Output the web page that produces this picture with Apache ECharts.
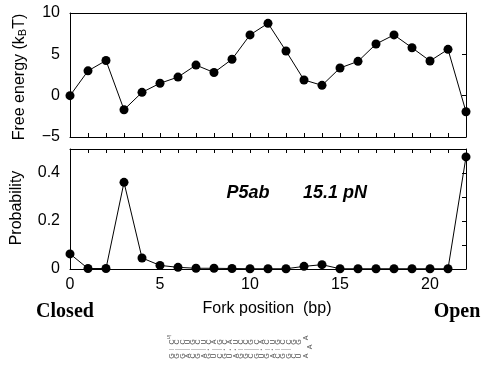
<!DOCTYPE html>
<html><head><meta charset="utf-8">
<script src="https://cdn.jsdelivr.net/npm/echarts@6/dist/echarts.min.js"></script>
<style>html,body{margin:0;padding:0;background:#fff}#c{width:482px;height:365px}</style>
</head><body><div id="c"></div>
<script>
const positions = [0,1,2,3,4,5,6,7,8,9,10,11,12,13,14,15,16,17,18,19,20,21,22];
const freeEnergy = [0,3.0,4.25,-1.7,0.4,1.5,2.25,3.7,2.8,4.4,7.35,8.75,5.4,1.9,1.25,3.35,4.15,6.25,7.35,5.8,4.2,5.6,-1.95];
const probability = [0.063,0.002,0.002,0.361,0.046,0.015,0.007,0.003,0.003,0.002,0.001,0.001,0.001,0.011,0.018,0.001,0.001,0.001,0.001,0.001,0.001,0.001,0.467];
const energyTicks = [-5,0,5,10];
const probTicks = [0,0.2,0.4];
const forkTicks = [0,5,10,15,20];
const topStrand = "CCCUGCUCAGCAUCCGCACUGCCGG";
const pairMarks = "|||||||\u2022||\u2022\u2022\u2022||||\u2022|\u2022|||";
const botStrand = "GGGACGAGUCGUAGGCGUGACGGCU";

const FONT = '"Liberation Sans", Arial, Helvetica, sans-serif';
const pairE = positions.map((p,i)=>[p,freeEnergy[i]]);
const pairP = positions.map((p,i)=>[p,probability[i]]);
const black = '#000';
const axisLine = {show:true, onZero:false, lineStyle:{color:black,width:1}};

const hairpin = [];
const x0 = 172, dx = 5.3;
function addRow(str, y, color, size){
  for (let i=0;i<str.length;i++){
    hairpin.push({type:'text', x:x0+i*dx, y:y, rotation:Math.PI/2,
      style:{text:str[i], font:size+'px '+FONT, fill:color, align:'center', verticalAlign:'middle'}, silent:true});
  }
}
addRow(topStrand, 342, '#555', 7);
addRow(pairMarks, 349.5, '#777', 5);
addRow(botStrand, 356, '#555', 7);
hairpin.push({type:'text', x:167, y:334, style:{text:"5'", font:'6px '+FONT, fill:'#666'}});
hairpin.push({type:'text', x:x0+topStrand.length*dx+2, y:338, rotation:Math.PI/2, style:{text:'A', font:'7px '+FONT, fill:'#555', align:'center', verticalAlign:'middle'}});
hairpin.push({type:'text', x:x0+topStrand.length*dx+6, y:347, rotation:Math.PI/2, style:{text:'A', font:'7px '+FONT, fill:'#555', align:'center', verticalAlign:'middle'}});
hairpin.push({type:'text', x:x0+topStrand.length*dx+2, y:356, rotation:Math.PI/2, style:{text:'A', font:'7px '+FONT, fill:'#555', align:'center', verticalAlign:'middle'}});

const chart = echarts.init(document.getElementById('c'), null, {renderer:'canvas'});
chart.setOption({
  animation:false,
  backgroundColor:'#fff',
  grid:[
    {left:70, top:13, width:396, height:124},
    {left:70, top:149, width:396, height:120}
  ],
  xAxis:[
    {gridIndex:0, type:'value', position:'bottom', min:0, max:22, interval:1,
     axisLine:axisLine, axisTick:{show:true, inside:true, length:4, lineStyle:{color:black}},
     axisLabel:{show:false}, splitLine:{show:false}},
    {gridIndex:0, type:'value', position:'top', min:0, max:22, interval:1,
     axisLine:axisLine, axisTick:{show:false}, axisLabel:{show:false}, splitLine:{show:false}},
    {gridIndex:1, type:'value', position:'bottom', min:0, max:22, interval:5,
     axisLine:axisLine, axisTick:{show:false}, splitLine:{show:false},
     axisLabel:{show:true, margin:8, fontSize:16, fontFamily:FONT, color:black, showMaxLabel:false,
       formatter:v=> forkTicks.includes(v) ? String(v) : ''}},
    {gridIndex:1, type:'value', position:'top', min:0, max:22, interval:1,
     axisLine:axisLine, axisTick:{show:true, inside:true, length:4, lineStyle:{color:black}},
     axisLabel:{show:false}, splitLine:{show:false}}
  ],
  yAxis:[
    {gridIndex:0, type:'value', position:'left', min:-5, max:10, interval:5,
     axisLine:axisLine, axisTick:{show:false}, splitLine:{show:false},
     axisLabel:{show:true, margin:10, fontSize:16, fontFamily:FONT, color:black,
       formatter:v=> energyTicks.includes(v) ? (v<0 ? '\u2212'+Math.abs(v) : String(v)) : ''}},
    {gridIndex:0, type:'value', position:'right', min:-5, max:10, interval:5,
     axisLine:axisLine, axisTick:{show:true, inside:true, length:4, lineStyle:{color:black}},
     axisLabel:{show:false}, splitLine:{show:false}},
    {gridIndex:1, type:'value', position:'left', min:0, max:0.5, interval:0.2,
     axisLine:axisLine, axisTick:{show:false}, splitLine:{show:false},
     axisLabel:{show:true, margin:10, fontSize:16, fontFamily:FONT, color:black, showMaxLabel:false,
       formatter:v=> probTicks.some(t=>Math.abs(t-v)<1e-9) ? (v===0?'0':String(+v.toFixed(1))) : ''}},
    {gridIndex:1, type:'value', position:'right', min:0, max:0.5, interval:0.1,
     axisLine:axisLine, axisTick:{show:true, inside:true, length:4, lineStyle:{color:black}},
     axisLabel:{show:false}, splitLine:{show:false}}
  ],
  series:[
    {type:'line', xAxisIndex:0, yAxisIndex:0, data:pairE, symbol:'circle', symbolSize:9,
     lineStyle:{color:black,width:1}, itemStyle:{color:black}, z:5},
    {type:'line', xAxisIndex:2, yAxisIndex:2, data:pairP, symbol:'circle', symbolSize:9,
     lineStyle:{color:black,width:1}, itemStyle:{color:black}, z:5}
  ],
  graphic:[
    {type:'text', x:19, y:77, rotation:Math.PI/2,
     style:{text:'{a|Free energy (k}{s|B}{a|T)}', align:'center', verticalAlign:'middle',
       rich:{a:{font:'16px '+FONT, fill:black, lineHeight:18, verticalAlign:'bottom'},
             s:{font:'11px '+FONT, fill:black, lineHeight:18, verticalAlign:'bottom', padding:[6,0,0,0]}}}},
    {type:'text', x:17, y:208, rotation:Math.PI/2,
     style:{text:'Probability', font:'16px '+FONT, fill:black, align:'center', verticalAlign:'middle'}},
    {type:'text', x:248, y:193,
     style:{text:'P5ab', font:'italic bold 18px '+FONT, fill:black, align:'center', verticalAlign:'middle'}},
    {type:'text', x:335, y:193,
     style:{text:'15.1 pN', font:'italic bold 18px '+FONT, fill:black, align:'center', verticalAlign:'middle'}},
    {type:'text', x:267, y:309,
     style:{text:'Fork position  (bp)', font:'16px '+FONT, fill:black, align:'center', verticalAlign:'middle'}},
    {type:'text', x:65, y:312,
     style:{text:'Closed', font:'bold 20px "Liberation Serif", "Times New Roman", serif', fill:black, align:'center', verticalAlign:'middle'}},
    {type:'text', x:457, y:312,
     style:{text:'Open', font:'bold 20px "Liberation Serif", "Times New Roman", serif', fill:black, align:'center', verticalAlign:'middle'}}
  ].concat(hairpin)
});
</script></body></html>
